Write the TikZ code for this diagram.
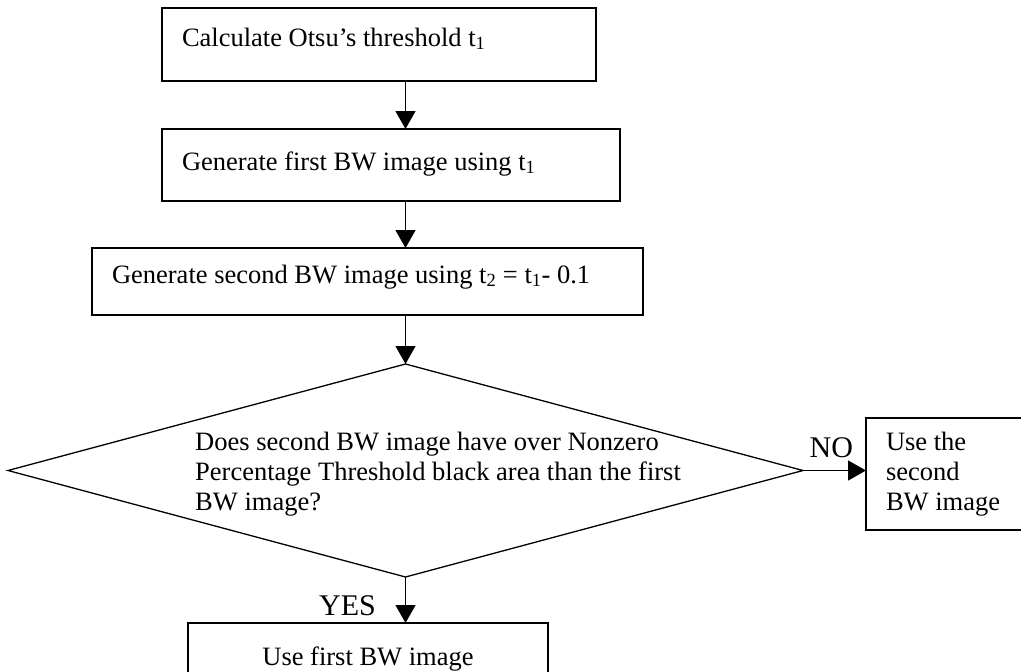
\documentclass[tikz,border=0pt]{standalone}
\usepackage{fontspec}
\setmainfont{Liberation Serif}
\usetikzlibrary{arrows.meta,shapes.geometric}

\begin{document}
\begin{tikzpicture}[x=1pt,y=-1pt,
  box/.style={draw, line width=1.6pt, anchor=north west, align=flush left,
    inner xsep=20pt, inner ysep=0pt, outer sep=0pt,
    font=\fontsize{26.5}{30}\selectfont},
  flow/.style={line width=1.3pt, -{Triangle[length=18pt,width=20pt]}},
  lbl/.style={inner sep=0pt, font=\fontsize{30}{34}\selectfont}]
  \useasboundingbox (0,0) rectangle (1021,672);
  \clip (0,0) rectangle (1021,672);

  % process boxes
  \node[box, text width=394pt, text height=38pt, text depth=35pt] (otsu) at (162,8)
    {Calculate Otsu’s threshold t\textsubscript{1}};
  \node[box, text width=418pt, text height=41pt, text depth=31pt] (first) at (162,129)
    {Generate first BW image using t\textsubscript{1}};
  \node[box, text width=511pt, text height=35pt, text depth=32pt] (second) at (92,248)
    {Generate second BW image using t\textsubscript{2} = t\textsubscript{1}- 0.1};

  % decision
  \node[draw, diamond, line width=1.3pt, minimum width=795pt, minimum height=213pt,
    inner sep=0pt, outer sep=0pt] (check) at (405.5,470.5) {};
  \node[anchor=north west, align=left, inner sep=0pt,
    font=\fontsize{26.5}{30}\selectfont] (qtext) at (195,432)
    {Does second BW image have over Nonzero\\
     Percentage Threshold black area than the first\\
     BW image?};

  % outcomes
  \node[box, align=flush center, text width=320pt, text height=42pt, text depth=60pt] (usefirst) at (188,623)
    {Use first BW image};
  \node[box, text width=160pt, minimum height=112pt] (usesecond) at (866,418)
    {Use the\\second\\BW image};

  % connectors
  \draw[flow] (otsu.south -| check.north) -- (first.north -| check.north);
  \draw[flow] (first.south -| check.north) -- (second.north -| check.north);
  \draw[flow] (second.south -| check.north) -- (check.north);
  \draw[flow] (check.south) -- (check.south |- usefirst.north)
    node[lbl, pos=0.83, anchor=base east, xshift=-29pt] {YES};
  \draw[flow] (check.east) -- (check.east -| usesecond.west)
    node[lbl, pos=0.45, anchor=base, yshift=13pt] {NO};
\end{tikzpicture}
\end{document}
